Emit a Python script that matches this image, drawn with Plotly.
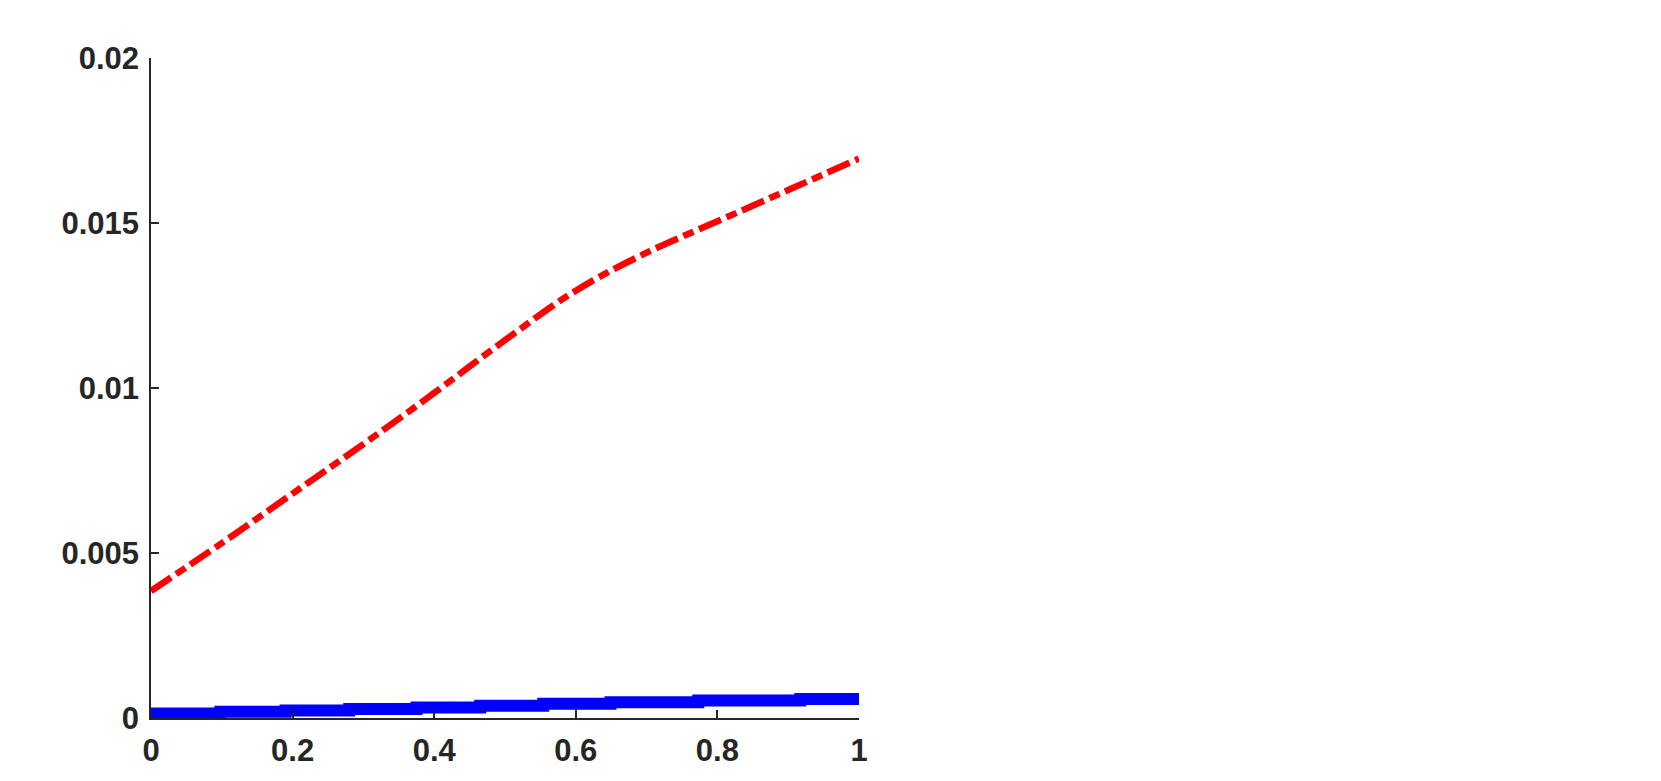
import plotly.graph_objects as go

# Red dash-dot series
red_x = [0.0, 0.1, 0.2, 0.3, 0.4, 0.5, 0.6, 0.7, 0.8, 0.9, 1.0]
red_y = [0.00385, 0.00530, 0.00680, 0.00830, 0.00985, 0.01145, 0.01295, 0.01410, 0.01505, 0.01600, 0.01695]

# Blue thick stepped series
blue_x = [0.0, 0.098, 0.19, 0.28, 0.375, 0.465, 0.554, 0.649, 0.773, 0.917, 1.0]
blue_y = [0.000136, 0.00019, 0.00023, 0.000276, 0.000318, 0.000370, 0.000433, 0.000479, 0.00053, 0.000579, 0.000579]

x_ticks = [0, 0.2, 0.4, 0.6, 0.8, 1]
x_labels = ["0", "0.2", "0.4", "0.6", "0.8", "1"]
y_ticks = [0, 0.005, 0.01, 0.015, 0.02]
y_labels = ["0", "0.005", "0.01", "0.015", "0.02"]

fig = go.Figure()
fig.add_trace(go.Scatter(
    x=blue_x, y=blue_y, mode="lines", line_shape="hv",
    line=dict(color="#0000ff", width=12), showlegend=False,
    cliponaxis=False,
))
fig.add_trace(go.Scatter(
    x=red_x, y=red_y, mode="lines", line_shape="spline",
    line=dict(color="#ff0000", width=6.5, dash="24px,6px,11px,6px"),
    showlegend=False, cliponaxis=False,
))

axis_common = dict(
    showgrid=False, zeroline=False, showline=True, linecolor="#262626", linewidth=1.5,
    ticks="inside", ticklen=8, tickwidth=1.5, tickcolor="#262626", automargin=False,
    tickfont=dict(family="Liberation Sans", size=31, color="#262626", weight="bold"),
)
fig.update_xaxes(range=[0, 1], tickvals=x_ticks, ticktext=x_labels,
                 ticklabelstandoff=4, **axis_common)
fig.update_yaxes(range=[0, 0.02], tickvals=y_ticks, ticktext=y_labels,
                 ticklabelstandoff=4, **axis_common)

fig.update_layout(
    width=1645, height=765,
    margin=dict(l=143, r=794, t=50, b=55, pad=0),
    plot_bgcolor="white", paper_bgcolor="white",
)
fig.write_html("out.html")
